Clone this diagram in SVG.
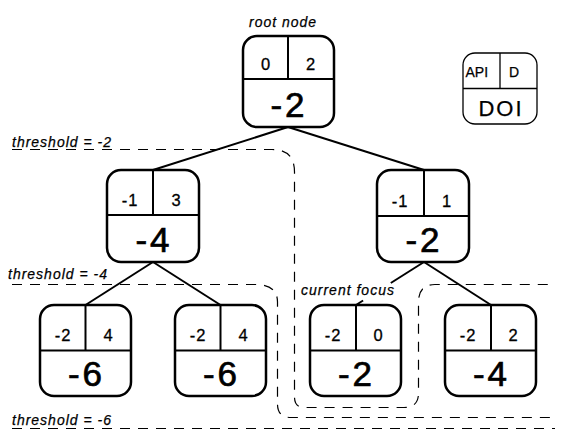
<svg xmlns="http://www.w3.org/2000/svg" width="571" height="444" viewBox="0 0 571 444">
<style>
  .box { fill: #fff; stroke: #000; stroke-width: 2.5; }
  .div { stroke: #000; stroke-width: 2; fill: none; }
  .edge { stroke: #000; stroke-width: 2; fill: none; }
  .thr { stroke: #000; stroke-width: 1.2; fill: none; stroke-dasharray: 10 8; }
  .sm { font-family: "Liberation Sans", Arial, sans-serif; font-size: 16.5px; text-anchor: middle; letter-spacing: 1px; fill: #000; stroke: #000; stroke-width: 0.3; }
  .big { font-family: "Liberation Sans", Arial, sans-serif; font-size: 35px; text-anchor: middle; letter-spacing: 3px; fill: #000; stroke: #000; stroke-width: 0.7; }
  .lbl { font-family: "Liberation Sans", Arial, sans-serif; font-size: 14px; font-style: italic; letter-spacing: 1px; fill: #000; stroke: #000; stroke-width: 0.25; }
  .leg { font-family: "Liberation Sans", Arial, sans-serif; fill: #000; stroke: #000; stroke-width: 0.25; }
</style>
<rect width="571" height="444" fill="#fff"/>

<g id="thresholds">
  <path class="thr" d="M12,149.5 H272 Q294.5,149.5 294.5,172 V397 Q294.5,407.5 304,407.5 H404 Q418.5,407.5 418.5,393 V302 Q418.5,284.5 435,284.5 H555"/>
  <path class="thr" d="M12,284.5 H255 Q277.5,284.5 277.5,302 V404 Q277.5,417.5 291,417.5 H555"/>
  <path class="thr" d="M12,428.5 H555"/>
  <text class="lbl" x="12" y="146.5">threshold = -2</text>
  <text class="lbl" x="8" y="279">threshold = -4</text>
  <text class="lbl" x="12" y="424.5">threshold = -6</text>
</g>

<g id="connectors">
  <line class="edge" x1="288" y1="127" x2="153" y2="170"/>
  <line class="edge" x1="288" y1="127" x2="424" y2="170"/>
  <line class="edge" x1="153" y1="262" x2="85.5" y2="305"/>
  <line class="edge" x1="153" y1="262" x2="220.5" y2="305"/>
  <line class="edge" x1="424" y1="262" x2="390.8" y2="283"/>
  <line class="edge" x1="363.1" y1="300.5" x2="356" y2="305"/>
  <line class="edge" x1="424" y1="262" x2="491" y2="305"/>
</g>

<g id="root">
  <text class="lbl" x="249" y="27">root node</text>
  <rect class="box" x="243" y="36" width="91" height="91" rx="14"/>
  <line class="div" x1="288" y1="36" x2="288" y2="79"/>
  <line class="div" x1="243" y1="79" x2="334" y2="79"/>
  <text class="sm" x="266" y="70">0</text>
  <text class="sm" x="311" y="70">2</text>
  <text class="big" x="289" y="117">-2</text>
</g>

<g id="legend">
  <rect x="463" y="53" width="74" height="71" rx="12" fill="#fff" stroke="#000" stroke-width="1.3"/>
  <line x1="500" y1="53" x2="500" y2="88.5" stroke="#000" stroke-width="1.3"/>
  <line x1="463" y1="88.5" x2="537" y2="88.5" stroke="#000" stroke-width="1.3"/>
  <text class="leg" x="465.5" y="77" font-size="14">API</text>
  <text class="leg" x="514" y="77" font-size="14" text-anchor="middle">D</text>
  <text class="leg" x="501" y="116" font-size="22" text-anchor="middle" letter-spacing="2">DOI</text>
</g>

<g id="node-left">
  <rect class="box" x="107" y="170" width="92" height="92" rx="14"/>
  <line class="div" x1="153" y1="170" x2="153" y2="215"/>
  <line class="div" x1="107" y1="215" x2="199" y2="215"/>
  <text class="sm" x="130" y="206">-1</text>
  <text class="sm" x="176.5" y="206">3</text>
  <text class="big" x="154" y="252">-4</text>
</g>

<g id="node-right">
  <rect class="box" x="377" y="170" width="92" height="92" rx="14"/>
  <line class="div" x1="424" y1="170" x2="424" y2="216"/>
  <line class="div" x1="377" y1="216" x2="469" y2="216"/>
  <text class="sm" x="400" y="207">-1</text>
  <text class="sm" x="447" y="207">1</text>
  <text class="big" x="424" y="252">-2</text>
</g>

<g id="node-b1">
  <rect class="box" x="40" y="305" width="91" height="91" rx="14"/>
  <line class="div" x1="85.5" y1="305" x2="85.5" y2="350.5"/>
  <line class="div" x1="40" y1="350.5" x2="131" y2="350.5"/>
  <text class="sm" x="63" y="341">-2</text>
  <text class="sm" x="108.5" y="341">4</text>
  <text class="big" x="86.5" y="386">-6</text>
</g>

<g id="node-b2">
  <rect class="box" x="175" y="305" width="91" height="91" rx="14"/>
  <line class="div" x1="220.5" y1="305" x2="220.5" y2="350.5"/>
  <line class="div" x1="175" y1="350.5" x2="266" y2="350.5"/>
  <text class="sm" x="198" y="341">-2</text>
  <text class="sm" x="243.5" y="341">4</text>
  <text class="big" x="221.5" y="386">-6</text>
</g>

<g id="node-b3">
  <text class="lbl" x="301" y="295">current focus</text>
  <rect class="box" x="310" y="305" width="91" height="91" rx="14"/>
  <line class="div" x1="356" y1="305" x2="356" y2="350.5"/>
  <line class="div" x1="310" y1="350.5" x2="401" y2="350.5"/>
  <text class="sm" x="333" y="341">-2</text>
  <text class="sm" x="378.5" y="341">0</text>
  <text class="big" x="356.5" y="386">-2</text>
</g>

<g id="node-b4">
  <rect class="box" x="445" y="305" width="91" height="91" rx="14"/>
  <line class="div" x1="491" y1="305" x2="491" y2="350.5"/>
  <line class="div" x1="445" y1="350.5" x2="536" y2="350.5"/>
  <text class="sm" x="468" y="341">-2</text>
  <text class="sm" x="513.5" y="341">2</text>
  <text class="big" x="491.5" y="386">-4</text>
</g>
</svg>
